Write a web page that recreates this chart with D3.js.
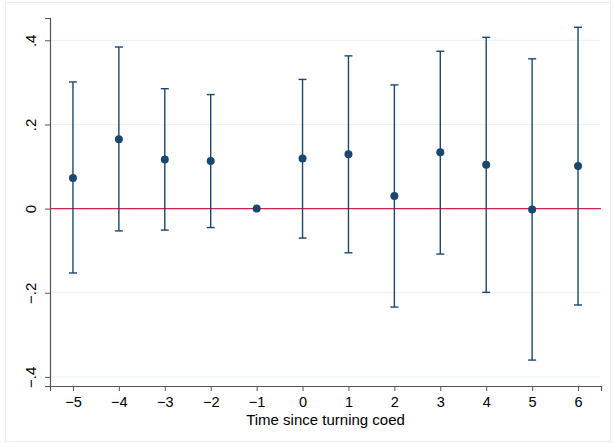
<!DOCTYPE html>
<html>
<head>
<meta charset="utf-8">
<script src="https://cdn.jsdelivr.net/npm/d3@7"></script>
<style>
  html, body { margin: 0; padding: 0; background: #fff; }
  svg { display: block; }
  text { font-family: "Liberation Sans", Arial, Helvetica, sans-serif; fill: #000; }
</style>
</head>
<body>
<svg id="chart" width="613" height="444"></svg>
<script>
// Event-study coefficients with 95% confidence intervals
const periods   = [-5, -4, -3, -2, -1, 0, 1, 2, 3, 4, 5, 6];
const estimates = [0.073, 0.165, 0.117, 0.113, 0, 0.119, 0.129, 0.030, 0.134, 0.104, -0.002, 0.101];
const ciLower   = [-0.153, -0.053, -0.051, -0.045, null, -0.070, -0.105, -0.234, -0.108, -0.199, -0.360, -0.229];
const ciUpper   = [0.301, 0.384, 0.285, 0.271, null, 0.307, 0.363, 0.294, 0.374, 0.407, 0.356, 0.431];
const yTicks    = [-0.4, -0.2, 0, 0.2, 0.4];
const yTickText = ["\u2212.4", "\u2212.2", "0", ".2", ".4"];
const xTitle    = "Time since turning coed";

const rows = periods.map((p, i) => ({ p, est: estimates[i], lo: ciLower[i], hi: ciUpper[i] }));

const svg = d3.select("#chart");
const plotL = 50, plotR = 601, plotT = 18, plotB = 386;

const x = d3.scaleLinear().domain([-5.5, 6.5]).range([plotL, plotR]);
const y = d3.scaleLinear().domain([-0.4216, 0.453]).range([plotB, plotT]);

// outer frame
svg.append("rect")
  .attr("x", 5.5).attr("y", 2.5).attr("width", 605).attr("height", 439)
  .attr("fill", "#fff").attr("stroke", "#e6eeee").attr("stroke-width", 1);

// horizontal grid
svg.append("g").selectAll("line").data(yTicks.filter(d => d !== 0)).join("line")
  .attr("x1", plotL).attr("x2", plotR)
  .attr("y1", d => y(d)).attr("y2", d => y(d))
  .attr("stroke", "#eaf2f3").attr("stroke-width", 1);

// reference line at zero
svg.append("line")
  .attr("x1", plotL).attr("x2", plotR)
  .attr("y1", y(0)).attr("y2", y(0))
  .attr("stroke", "#d0234e").attr("stroke-width", 1.2);

// axes
const yAxis = d3.axisLeft(y).tickValues(yTicks).tickSize(5).tickPadding(4)
  .tickFormat((d, i) => yTickText[i]);
const gy = svg.append("g").attr("transform", `translate(${plotL},0)`).call(yAxis);
gy.select(".domain").attr("stroke", "#555").attr("stroke-width", 1.2);
gy.selectAll(".tick line").attr("stroke", "#555");
gy.selectAll(".tick text")
  .attr("font-size", 15)
  .attr("text-anchor", "middle")
  .attr("x", null).attr("dy", null)
  .attr("transform", "translate(-14,0) rotate(-90)")
  .attr("y", 0);

const xAxis = d3.axisBottom(x).tickValues(periods).tickSize(5).tickPadding(5.5)
  .tickFormat(d => d < 0 ? "\u2212" + Math.abs(d) : String(d));
const gx = svg.append("g").attr("transform", `translate(0,${plotB})`).call(xAxis);
gx.select(".domain").attr("stroke", "#555").attr("stroke-width", 1.2);
gx.selectAll(".tick line").attr("stroke", "#555");
gx.selectAll(".tick text").attr("font-size", 14.5);

// axis title
svg.append("text")
  .attr("x", (plotL + plotR) / 2).attr("y", 424.5)
  .attr("text-anchor", "middle").attr("font-size", 15)
  .text(xTitle);

// confidence intervals (range with caps)
const ci = rows.filter(d => d.lo !== null);
const navy = "#1a476f";
const capHalf = 4;
const g = svg.append("g").attr("stroke", navy).attr("stroke-width", 1.4);
g.selectAll("line.bar").data(ci).join("line").attr("class", "bar")
  .attr("x1", d => x(d.p)).attr("x2", d => x(d.p))
  .attr("y1", d => y(d.lo)).attr("y2", d => y(d.hi));
g.selectAll("line.capHi").data(ci).join("line").attr("class", "capHi")
  .attr("x1", d => x(d.p) - capHalf).attr("x2", d => x(d.p) + capHalf)
  .attr("y1", d => y(d.hi)).attr("y2", d => y(d.hi));
g.selectAll("line.capLo").data(ci).join("line").attr("class", "capLo")
  .attr("x1", d => x(d.p) - capHalf).attr("x2", d => x(d.p) + capHalf)
  .attr("y1", d => y(d.lo)).attr("y2", d => y(d.lo));

// point estimates
svg.append("g").selectAll("circle").data(rows).join("circle")
  .attr("cx", d => x(d.p)).attr("cy", d => y(d.est)).attr("r", 4)
  .attr("fill", navy);
</script>
</body>
</html>
